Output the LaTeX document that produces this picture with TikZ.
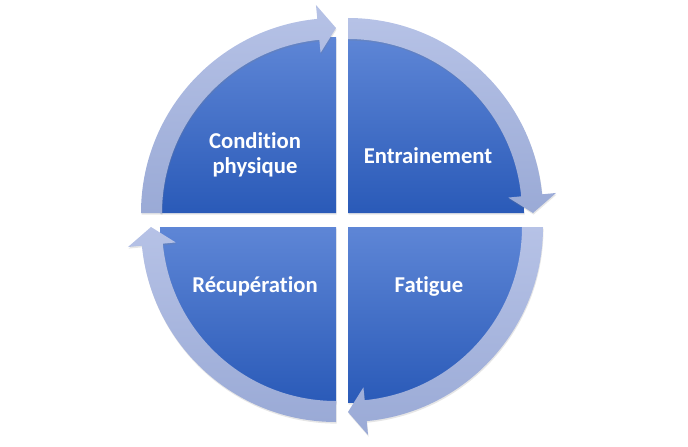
\documentclass[tikz,border=0pt]{standalone}
\usepackage{fontspec}
\setmainfont{Carlito}[Ligatures=NoCommon]
\usetikzlibrary{calc,shadows}
\definecolor{quadtop}{RGB}{94,134,214}
\definecolor{quadbot}{RGB}{42,90,184}
\definecolor{bandtop}{RGB}{182,194,230}
\definecolor{bandbot}{RGB}{154,170,214}
\tikzset{
  quad/.style={top color=quadtop, bottom color=quadbot, draw=none,
    drop shadow={shadow xshift=0.4pt, shadow yshift=-1.2pt, opacity=0.2}},
  band/.style={top color=bandtop, bottom color=bandbot, draw=none,
    drop shadow={shadow xshift=0.4pt, shadow yshift=-1.2pt, opacity=0.2}},
  quadtext/.style={text=white, font=\fontsize{17}{19}\selectfont\bfseries, align=center}
}
\begin{document}
\begin{tikzpicture}[x=0.75pt,y=0.75pt,line join=round]
\useasboundingbox (-342,-226) rectangle (346,220);
\path
(-6,7) coordinate (TL)
(6,7) coordinate (TR)
(6,-7) coordinate (BR)
(-6,-7) coordinate (BL);

% quarter disks
\foreach \c/\a in {TL/90,TR/0,BR/-90,BL/180} {
	\path[quad] (\c) -- ++(\a:176) arc[start angle=\a, delta angle=90, radius=176] -- cycle;
}

% curved arrows, clockwise
\foreach \c/\s in {TL/180,TR/90,BR/0,BL/-90} {
	\path[band] ($(\c)+(\s:195)$) arc[start angle=\s, end angle=\s-84.5, radius=195]
	-- ($(\c)+(\s-84.5:209)$) -- ($(\c)+(\s-90:185)$) -- ($(\c)+(\s-84.5:161)$)
	-- ($(\c)+(\s-84.5:174)$) arc[start angle=\s-84.5, end angle=\s, radius=174] -- cycle;
}

\node[quadtext] (condition) at (-87,65) {Condition\\physique};
\node[quadtext] (entrainement) at (86,64) {Entrainement};
\node[quadtext] (fatigue) at (87,-66) {Fatigue};
\node[quadtext] (recuperation) at (-87,-66) {Récupération};
\end{tikzpicture}
\end{document}
